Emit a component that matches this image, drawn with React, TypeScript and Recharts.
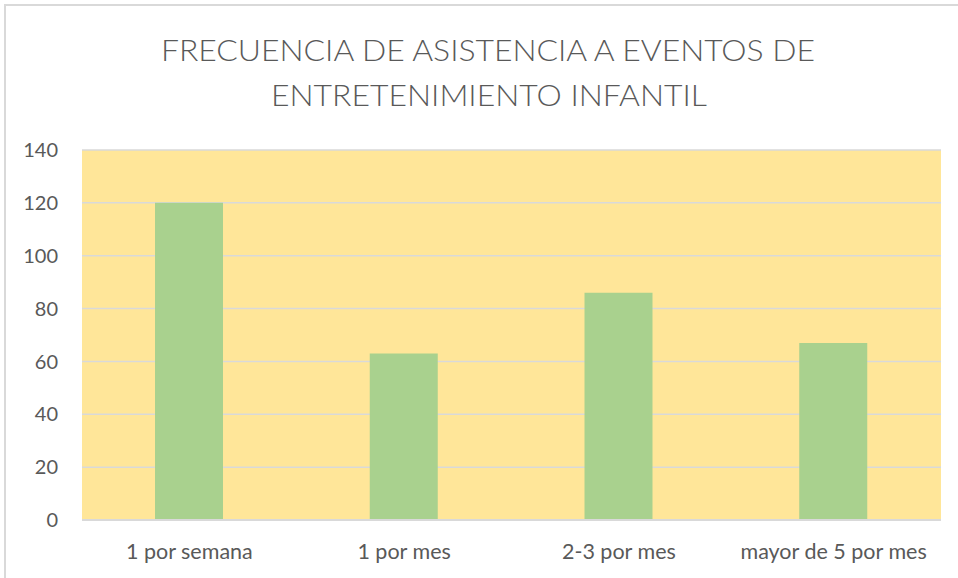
import React from "react";
import { BarChart, Bar, XAxis, YAxis, CartesianGrid } from "recharts";

const categories = ["1  por semana", "1 por mes", "2-3 por mes", "mayor de 5 por mes"];
const values = [120, 63, 86, 67];
const yTicks = [0, 20, 40, 60, 80, 100, 120, 140];
const titleLines = ["FRECUENCIA DE ASISTENCIA A EVENTOS DE", "ENTRETENIMIENTO INFANTIL"];

const data = categories.map((c, i) => ({ name: c, value: values[i] }));

const FONT = "Lato, 'Noto Sans', sans-serif";
const TEXT = "#595959";

export default function App() {
  return (
    <div style={{ position: "absolute", left: 0, top: 0, width: 958, height: 578, background: "#fff", overflow: "hidden" }}>
      <div style={{ position: "absolute", left: 4, top: 4, width: 1000, height: 1000, borderLeft: "2px solid #d9d9d9", borderTop: "2px solid #d9d9d9" }} />
      <svg width={958} height={130} style={{ position: "absolute", left: 0, top: 0 }}>
        <text x={488} y={61} textAnchor="middle" fontFamily={FONT} fontWeight={300} fontSize={30} fill={TEXT} textLength={654} lengthAdjust="spacingAndGlyphs">{titleLines[0]}</text>
        <text x={489} y={106} textAnchor="middle" fontFamily={FONT} fontWeight={300} fontSize={30} fill={TEXT} textLength={436} lengthAdjust="spacingAndGlyphs">{titleLines[1]}</text>
      </svg>
      <div style={{ position: "absolute", left: 0, top: 0 }}>
        <BarChart width={958} height={578} data={data} margin={{ top: 150, right: 17, bottom: 0, left: 0 }}>
          <CartesianGrid vertical={false} stroke="#d9d9d9" strokeWidth={1.5} fill="#FFE699" />
          <XAxis
            dataKey="name"
            axisLine={{ stroke: "#d9d9d9", strokeWidth: 2 }}
            tickLine={false}
            tickSize={0}
            tickMargin={24}
            height={58}
            interval={0}
            tick={{ fill: TEXT, fontSize: 21.5, fontFamily: FONT, style: { whiteSpace: "pre" } }}
          />
          <YAxis
            domain={[0, 140]}
            ticks={yTicks}
            width={82}
            axisLine={false}
            tickLine={false}
            tickSize={0}
            tickMargin={24}
            tick={{ fill: TEXT, fontSize: 20, fontFamily: FONT }}
          />
          <Bar dataKey="value" fill="#A9D18E" barSize={68} isAnimationActive={false} />
        </BarChart>
      </div>
    </div>
  );
}
